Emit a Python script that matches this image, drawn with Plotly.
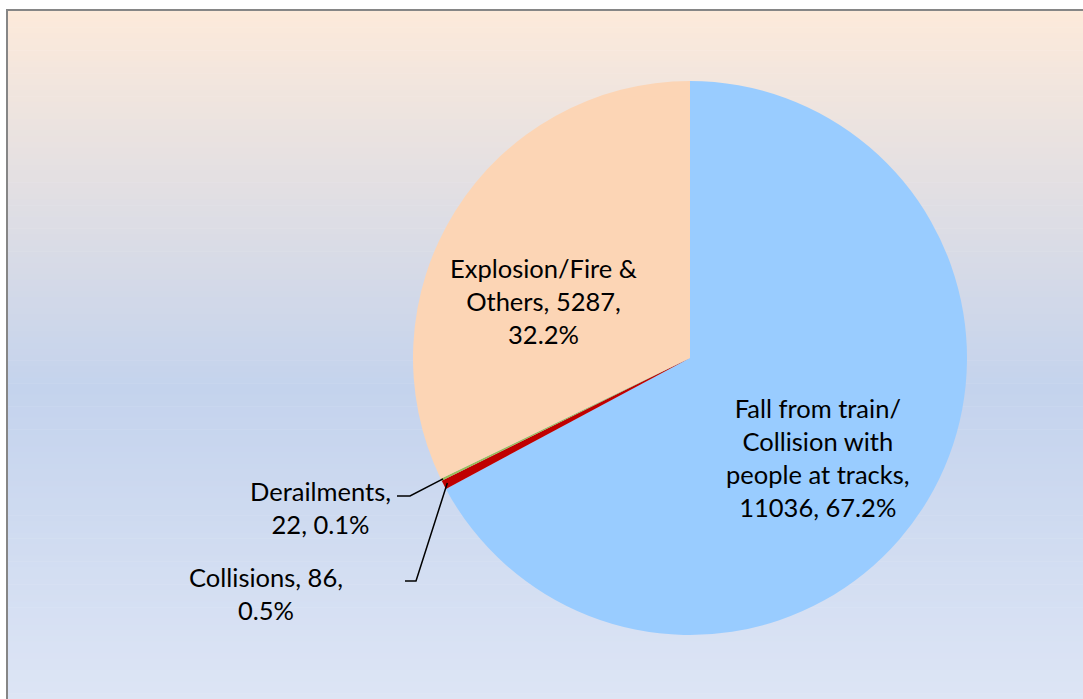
import math
import plotly.graph_objects as go

# ---- data ----
categories = ["Fall from train/ Collision with people at tracks", "Collisions", "Derailments", "Explosion/Fire & Others"]
values = [11036, 86, 22, 5287]
percents = ["67.2%", "0.5%", "0.1%", "32.2%"]
colors = ["#99CCFF", "#C00000", "#9BBB59", "#FCD5B5"]

W, H = 1083, 699
cx, cy, r = 690, 358, 277  # pie centre / radius in pixels

def px(x):
    return x / W

def py(y):
    return 1 - y / H

fig = go.Figure()
fig.add_trace(go.Pie(
    labels=categories, values=values, sort=False, direction="clockwise", rotation=0,
    marker=dict(colors=colors, line=dict(width=0)),
    textinfo="none", hoverinfo="label+value+percent", showlegend=False,
    domain=dict(x=[px(cx - r), px(cx + r)], y=[py(cy + r), py(cy - r)]),
))

# ---- gradient background ----
def lerp(a, b, t):
    return tuple(round(a[i] + (b[i] - a[i]) * t) for i in range(3))

stops = [(0.0, (253, 234, 218)), (0.55, (196, 211, 237)), (1.0, (221, 229, 245))]
shapes = []
top, bottom = 10, H
n = 120
for i in range(n):
    t = (i + 0.5) / n
    for j in range(len(stops) - 1):
        if stops[j][0] <= t <= stops[j + 1][0]:
            tt = (t - stops[j][0]) / (stops[j + 1][0] - stops[j][0])
            c = lerp(stops[j][1], stops[j + 1][1], tt)
            break
    y0 = top + (bottom - top) * i / n
    y1 = top + (bottom - top) * (i + 1) / n + 0.6
    shapes.append(dict(type="rect", xref="paper", yref="paper", layer="below",
                       x0=px(7), x1=1.01, y0=py(y1), y1=py(y0),
                       fillcolor="rgb(%d,%d,%d)" % c, line=dict(width=0)))
shapes.append(dict(type="rect", xref="paper", yref="paper", layer="below",
                   x0=px(7), x1=1.05, y0=-0.05, y1=py(10),
                   fillcolor="rgba(0,0,0,0)", line=dict(color="#868686", width=2)))

# ---- leader lines for small slices ----
total = sum(values)
def slice_point(idx, frac_in_slice=0.5, rad=r):
    cum = sum(values[:idx]) + values[idx] * frac_in_slice
    ang = 2 * math.pi * cum / total  # clockwise from 12 o'clock
    return cx + rad * math.sin(ang), cy - rad * math.cos(ang)

font = dict(family="Lato, Open Sans, sans-serif", size=25.5, color="black")

# Derailments
dx, dy = slice_point(2, 0.5, r - 2)
shapes.append(dict(type="path", xref="paper", yref="paper",
                   path="M %f %f L %f %f L %f %f" % (px(397), py(496), px(410), py(496), px(dx), py(dy)),
                   line=dict(color="black", width=1.5)))
# Collisions
ccx, ccy = slice_point(1, 0.5, r - 4)
shapes.append(dict(type="path", xref="paper", yref="paper",
                   path="M %f %f L %f %f L %f %f" % (px(405), py(581), px(416), py(581), px(ccx), py(ccy)),
                   line=dict(color="black", width=1.5)))

annotations = [
    dict(text="Explosion/Fire &<br>Others, %d,<br>%s" % (values[3], percents[3]), x=px(543), y=py(301)),
    dict(text="Fall from train/<br>Collision with<br>people at tracks,<br>%d, %s" % (values[0], percents[0]), x=px(818), y=py(457)),
    dict(text="Derailments,<br>%d, %s" % (values[2], percents[2]), x=px(320), y=py(508)),
    dict(text="Collisions, %d,<br>%s" % (values[1], percents[1]), x=px(266), y=py(593)),
]
for a in annotations:
    a.update(xref="paper", yref="paper", showarrow=False, align="center",
             xanchor="center", yanchor="middle", font=font)

fig.update_layout(width=W, height=H, margin=dict(l=0, r=0, t=0, b=0),
                  paper_bgcolor="white", plot_bgcolor="white",
                  shapes=shapes, annotations=annotations)
fig.write_html("out.html", config={"displayModeBar": False},
               post_script="document.body.style.margin='0px';document.body.style.overflow='hidden';")
